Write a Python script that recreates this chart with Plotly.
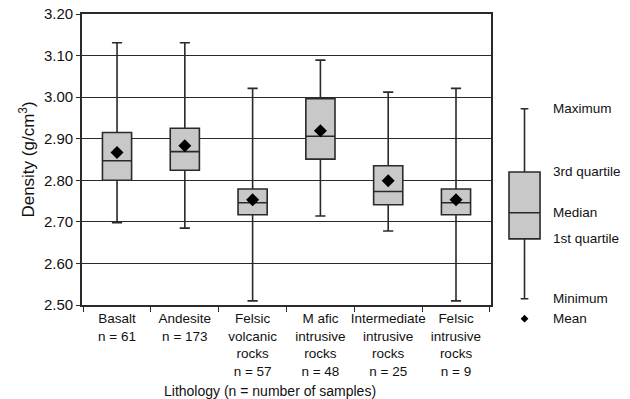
import plotly.graph_objects as go

# Density statistics per lithology (g/cm3)
categories = ["Basalt", "Andesite", "Felsic volcanic", "Mafic intrusive",
              "Intermediate intrusive", "Felsic intrusive"]
tick_labels = [
    "Basalt<br>n = 61",
    "Andesite<br>n = 173",
    "Felsic<br>volcanic<br>rocks<br>n = 57",
    "M afic<br>intrusive<br>rocks<br>n = 48",
    "Intermediate<br>intrusive<br>rocks<br>n = 25",
    "Felsic<br>intrusive<br>rocks<br>n = 9",
]
maximum = [3.131, 3.131, 3.021, 3.089, 3.012, 3.021]
q3 = [2.915, 2.925, 2.779, 2.996, 2.835, 2.779]
median = [2.847, 2.869, 2.746, 2.906, 2.773, 2.746]
q1 = [2.800, 2.824, 2.717, 2.851, 2.741, 2.717]
minimum = [2.698, 2.685, 2.510, 2.714, 2.678, 2.510]
mean = [2.867, 2.883, 2.753, 2.919, 2.799, 2.753]

# Key: an illustrative box with its annotations
key_labels = ["Maximum", "3rd quartile", "Median", "1st quartile", "Minimum", "Mean"]
key_values = [2.972, 2.820, 2.722, 2.659, 2.515, 2.467]

LINE = "#2a2a2a"
FILL = "#c8c8c8"
FONT = "Liberation Sans, Arial, sans-serif"

# density scale: main axis spans 2.50-3.20; the key axis runs a little lower
Y_MIN, Y_MAX = 2.50, 3.20
MAIN_BOTTOM = 0.1046
KEY_MIN = Y_MIN - (Y_MAX - Y_MIN) * MAIN_BOTTOM / (1 - MAIN_BOTTOM)

fig = go.Figure()

fig.add_trace(go.Box(
    x=categories, q1=q1, median=median, q3=q3,
    lowerfence=minimum, upperfence=maximum,
    width=0.43, whiskerwidth=0.35,
    fillcolor=FILL, line=dict(color=LINE, width=1.6),
    boxpoints=False, hoverinfo="skip", showlegend=False,
))
fig.add_trace(go.Scatter(
    x=categories, y=mean, mode="markers",
    marker=dict(symbol="diamond", size=10, color="black"),
    showlegend=False, hoverinfo="skip",
))

key_x = 0.198
fig.add_trace(go.Box(
    x=[key_x], q1=[key_values[3]], median=[key_values[2]], q3=[key_values[1]],
    lowerfence=[key_values[4]], upperfence=[key_values[0]],
    width=0.236, whiskerwidth=0.25,
    fillcolor=FILL, line=dict(color=LINE, width=1.6),
    boxpoints=False, hoverinfo="skip", showlegend=False,
    xaxis="x2", yaxis="y2",
))
fig.add_trace(go.Scatter(
    x=[key_x], y=[key_values[5]], mode="markers",
    marker=dict(symbol="diamond", size=6, color="black"),
    cliponaxis=False, showlegend=False, hoverinfo="skip",
    xaxis="x2", yaxis="y2",
))

for label, val in zip(key_labels, key_values):
    fig.add_annotation(
        x=0.40, y=val, xref="x2", yref="y2", text=label, showarrow=False,
        xanchor="left", yanchor="middle",
        font=dict(family=FONT, size=13.5, color="#111"),
    )

fig.add_annotation(
    x=0.343, y=-0.16, xref="paper", yref="paper",
    text="Lithology (n = number of samples)", showarrow=False,
    xanchor="center", yanchor="middle",
    font=dict(family=FONT, size=14, color="#111"),
)

fig.update_layout(
    width=630, height=399,
    margin=dict(l=82, r=0, t=14, b=60),
    paper_bgcolor="white", plot_bgcolor="white",
    font=dict(family=FONT, color="#111"),
    xaxis=dict(
        domain=[0, 0.7464], type="category", anchor="y",
        tickmode="array", tickvals=categories, ticktext=tick_labels,
        tickangle=0, automargin=False,
        tickson="boundaries", ticks="outside", ticklen=5, tickcolor=LINE,
        showline=True, linecolor=LINE, linewidth=1.6, mirror=True,
        showgrid=False, tickfont=dict(size=13.5),
    ),
    yaxis=dict(
        domain=[MAIN_BOTTOM, 1], anchor="x",
        range=[Y_MIN, Y_MAX], tickmode="array",
        tickvals=[2.5, 2.6, 2.7, 2.8, 2.9, 3.0, 3.1, 3.2],
        tickformat=".2f", ticks="outside", ticklen=4, tickcolor=LINE,
        showline=True, linecolor=LINE, linewidth=1.6, mirror=True,
        showgrid=True, gridcolor=LINE, gridwidth=1.3, zeroline=False,
        tickfont=dict(size=15), automargin=False,
        title=dict(text="Density (g/cm<sup>3</sup>)", font=dict(size=17), standoff=5),
    ),
    xaxis2=dict(
        domain=[0.76, 1.0], range=[0, 1], anchor="y2",
        visible=False, showgrid=False, zeroline=False,
    ),
    yaxis2=dict(
        domain=[0, 1], range=[KEY_MIN, Y_MAX], anchor="x2",
        visible=False, showgrid=False, zeroline=False,
    ),
)

fig.write_html("out.html")
